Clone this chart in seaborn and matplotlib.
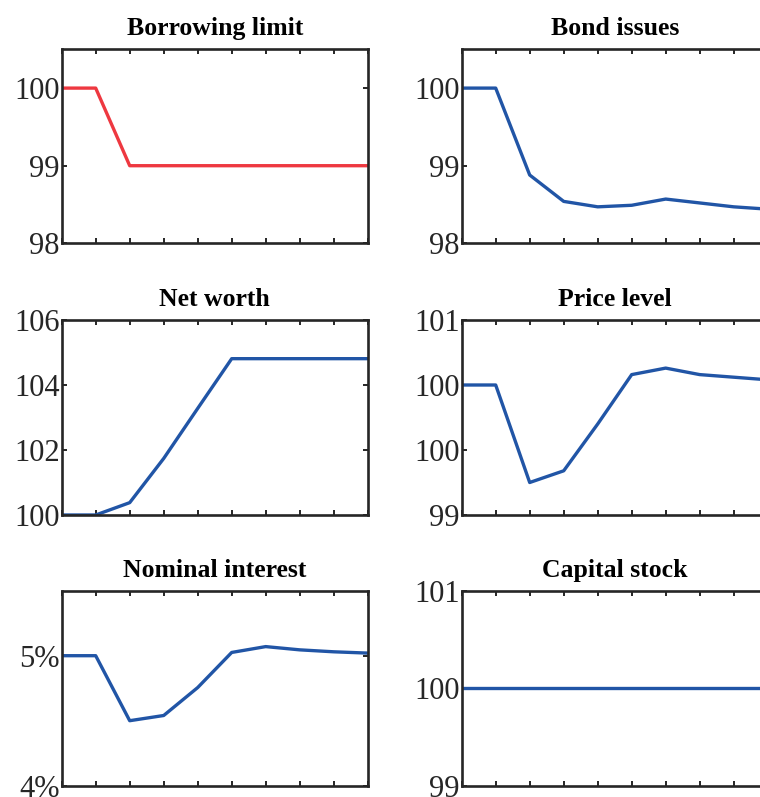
import matplotlib
matplotlib.use('Agg')
import matplotlib.pyplot as plt
import seaborn as sns
import pandas as pd

# Impulse responses (period 0..9)
periods = list(range(10))
borrowing_limit = [100, 100, 99, 99, 99, 99, 99, 99, 99, 99]
bond_issues = [100, 100, 98.88, 98.54, 98.47, 98.49, 98.57, 98.52, 98.47, 98.44]
net_worth = [100, 100, 100.38, 101.74, 103.28, 104.81, 104.81, 104.81, 104.81, 104.81]
price_level = [100, 100, 99.25, 99.34, 99.70, 100.08, 100.13, 100.08, 100.06, 100.04]
nominal_interest = [5.0, 5.0, 4.50, 4.54, 4.755, 5.025, 5.07, 5.045, 5.03, 5.02]
capital_stock = [100, 100, 100, 100, 100, 100, 100, 100, 100, 100]

titles = ["Borrowing limit", "Bond issues", "Net worth",
          "Price level", "Nominal interest", "Capital stock"]
series = [borrowing_limit, bond_issues, net_worth,
          price_level, nominal_interest, capital_stock]
colors = ["#EE3840", "#2155A6", "#2155A6", "#2155A6", "#2155A6", "#2155A6"]
ylims = [(98, 100.5), (98, 100.5), (100, 106), (99, 100.5), (4, 5.5), (99, 101)]
yticks = [[98, 99, 100], [98, 99, 100], [100, 102, 104, 106],
          [99, 99.5, 100, 100.5], [4, 5], [99, 100, 101]]
yticklabels = [["98", "99", "100"], ["98", "99", "100"],
               ["100", "102", "104", "106"], ["99", "100", "100", "101"],
               ["4%", "5%"], ["99", "100", "101"]]

sns.set_theme(style="ticks")
plt.rcParams['font.family'] = ['Liberation Serif', 'DejaVu Serif']

fig = plt.figure(figsize=(7.6, 7.97), dpi=100)

W, H = 760, 797
col_left = [61.7, 461.7]
ax_w = 306
row_top = [49.3, 320, 590.7]
row_bot = [243.3, 515, 785.7]

for i, (title, vals) in enumerate(zip(titles, series)):
    r, c = divmod(i, 2)
    left = col_left[c] / W
    bottom = 1 - row_bot[r] / H
    height = (row_bot[r] - row_top[r]) / H
    ax = fig.add_axes([left, bottom, ax_w / W, height])
    df = pd.DataFrame({"period": periods, "value": vals})
    sns.lineplot(data=df, x="period", y="value", ax=ax,
                 color=colors[i], linewidth=2.4)
    ax.set_xlim(0, 9)
    ax.set_ylim(*ylims[i])
    ax.set_xticks(periods)
    ax.set_xticklabels([])
    ax.set_yticks(yticks[i])
    ax.set_yticklabels(yticklabels[i])
    ax.set_xlabel("")
    ax.set_ylabel("")
    ax.tick_params(direction="in", top=True, right=True, length=3.5,
                   width=1.4, color="#262626", labelsize=22,
                   labelcolor="#262626", pad=1.5)
    for sp in ax.spines.values():
        sp.set_visible(True)
        sp.set_linewidth(1.9)
        sp.set_color("#262626")
    ax.set_title(title, fontsize=18.5, fontweight="bold", pad=10, color="black")

fig.savefig("out.png", dpi=100)
